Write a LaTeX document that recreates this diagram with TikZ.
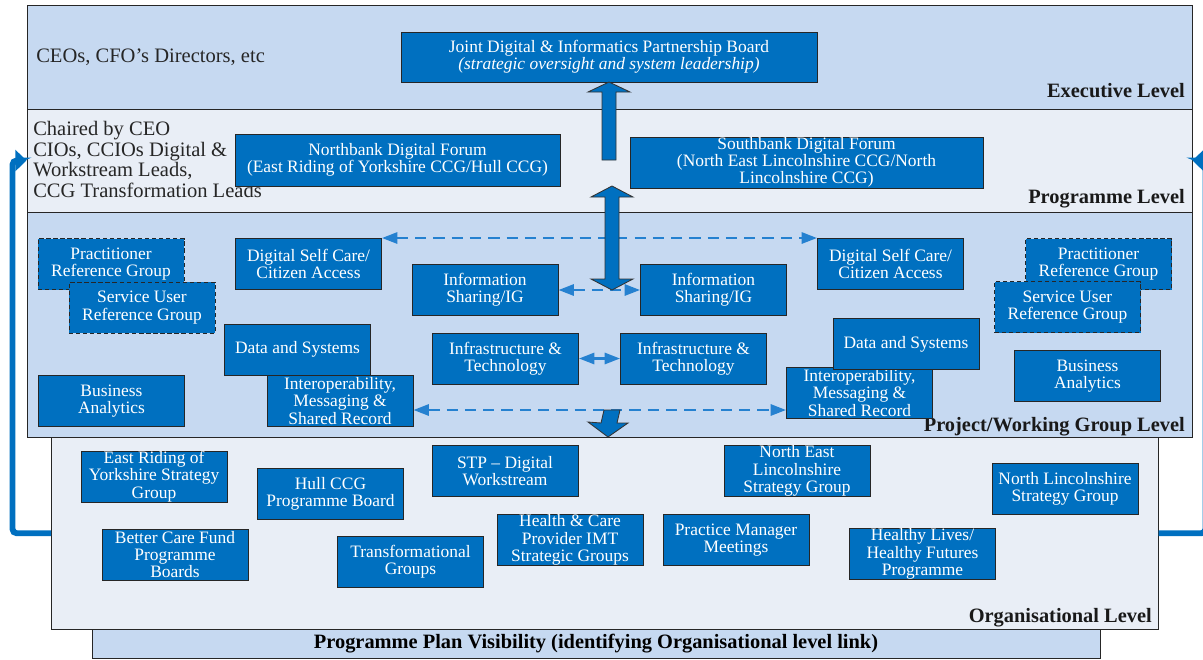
\documentclass[tikz,border=0pt]{standalone}
\usepackage{fontspec}
\setmainfont{Liberation Serif}
\usetikzlibrary{arrows.meta}
\newcommand{\pxu}{0.025cm}
\definecolor{boxblue}{HTML}{0070C0}
\definecolor{banddark}{HTML}{C6D9F1}
\definecolor{bandlight}{HTML}{E9EEF6}
\definecolor{dashblue}{HTML}{2581D0}
\tikzset{
  band/.style={draw=black!85,line width=0.7pt,inner sep=0pt},
  grp/.style={draw=black!85,line width=0.7pt,fill=boxblue,text=white,align=center,inner sep=0pt,
    minimum width=146*\pxu,minimum height=51*\pxu,font=\fontsize{12.4}{12.3}\selectfont},
  refgrp/.style={grp,densely dashed},
  lvl/.style={font=\fontsize{14.5}{14.5}\selectfont\bfseries,inner sep=0pt,text=black!90},
  who/.style={font=\fontsize{14.6}{14.6}\selectfont,inner sep=0pt,align=left,text=black!85},
  dasharr/.style={dashblue,line width=1.7pt,dash pattern=on 8pt off 5pt,
    {Triangle[length=11pt,width=8pt]}-{Triangle[length=11pt,width=8pt]}},
  loopline/.style={boxblue,line width=4.2pt,rounded corners=3pt,-{Triangle[length=8pt,width=15pt]}},
  blockarr/.style={fill=boxblue,draw=black!80,line width=0.6pt,line join=miter}
}
\begin{document}
\begin{tikzpicture}[x=0.025cm,y=-0.025cm]
\useasboundingbox (0,0) rectangle (1203,659);
% levels
\node[band,fill=banddark,minimum width=1165*\pxu,minimum height=104*\pxu] (exec) at (609.5,57) {};
\node[band,fill=bandlight,minimum width=1165*\pxu,minimum height=103*\pxu] (prog) at (609.5,160.5) {};
\node[band,fill=banddark,minimum width=1165*\pxu,minimum height=225*\pxu] (proj) at (609.5,324.5) {};
\node[band,fill=bandlight,minimum width=1106.5*\pxu,minimum height=192.5*\pxu] (org) at (604.75,533.25) {};
\node[band,fill=banddark,minimum width=1008*\pxu,minimum height=28.5*\pxu,font=\fontsize{14.5}{14.5}\selectfont\bfseries] (plan) at (596,643.75) {Programme Plan Visibility (identifying Organisational level link)};
\node[lvl,anchor=base east] (execlvl) at (1185,97) {Executive Level};
\node[lvl,anchor=base east] (proglvl) at (1185,203) {Programme Level};
\node[lvl,anchor=base east] (projlvl) at (1185,431) {Project/Working Group Level};
\node[lvl,anchor=base east] (orglvl) at (1152,622) {Organisational Level};
\node[who,anchor=base west] (execwho) at (36,62) {CEOs, CFO's Directors, etc};
\node[who,anchor=north west] (progwho) at (33,121) {Chaired by CEO\\CIOs, CCIOs Digital \&\\Workstream Leads,\\CCG Transformation Leads};
% links back up
\draw[loopline] (org.west) -- ++(-38.5,0) |- (prog.west);
\draw[loopline] (org.east) -- ++(47,0) |- (prog.east);
% executive + programme
\node[grp,minimum width=416*\pxu,minimum height=50*\pxu] (jdip) at (609,57) {Joint Digital \& Informatics Partnership Board\\\textit{(strategic oversight and system leadership)}};
\node[grp,minimum width=325*\pxu,minimum height=52*\pxu] (nbank) at (397.5,160) {Northbank Digital Forum\\(East Riding of Yorkshire CCG/Hull CCG)};
\node[grp,minimum width=353*\pxu] (sbank) at (806.5,162.5) {Southbank Digital Forum\\(North East Lincolnshire CCG/North\\Lincolnshire CCG)};
% project / working groups
\node[refgrp] (prgL) at (111,264) {Practitioner\\Reference Group};
\node[refgrp] (suL) at (142,307.5) {Service User\\Reference Group};
\node[grp] (dscL) at (308.5,264) {Digital Self Care/\\Citizen Access};
\node[grp] (dasL) at (297.5,349.5) {Data and Systems};
\node[grp] (intL) at (340,401) {Interoperability,\\Messaging \&\\Shared Record};
\node[grp] (baL) at (111.5,401) {Business\\Analytics};
\node[grp] (isL) at (485,290) {Information\\Sharing/IG};
\node[grp] (isR) at (713.5,290) {Information\\Sharing/IG};
\node[grp] (itL) at (505.5,358.5) {Infrastructure \&\\Technology};
\node[grp] (itR) at (693.5,358.5) {Infrastructure \&\\Technology};
\node[grp] (dscR) at (890.5,264) {Digital Self Care/\\Citizen Access};
\node[refgrp] (prgR) at (1098.5,264) {Practitioner\\Reference Group};
\node[refgrp] (suR) at (1067.5,307) {Service User\\Reference Group};
\node[grp] (intR) at (859.5,393) {Interoperability,\\Messaging \&\\Shared Record};
\node[grp] (dasR) at (906,344) {Data and Systems};
\node[grp] (baR) at (1087.5,376) {Business\\Analytics};
% organisational
\node[grp] (er) at (154,476.5) {East Riding of\\Yorkshire Strategy\\Group};
\node[grp] (hull) at (330.5,494) {Hull CCG\\Programme Board};
\node[grp] (stp) at (505,471) {STP -- Digital\\Workstream};
\node[grp] (nel) at (797,471) {North East\\Lincolnshire\\Strategy Group};
\node[grp] (nl) at (1065,488.5) {North Lincolnshire\\Strategy Group};
\node[grp] (bcf) at (175,554.5) {Better Care Fund\\Programme\\Boards};
\node[grp] (tg) at (410.5,562) {Transformational\\Groups};
\node[grp] (hc) at (570,540) {Health \& Care\\Provider IMT\\Strategic Groups};
\node[grp] (pm) at (736,540) {Practice Manager\\Meetings};
\node[grp] (hl) at (922.5,554) {Healthy Lives/\\Healthy Futures\\Programme};
% dashed links
\coordinate (iy) at (0,410);
\draw[dasharr] (dscL.north east) -- (dscR.north west);
\draw[dasharr] (isL.east) -- (isR.west);
\draw[dasharr] (itL.east) -- (itR.west);
\draw[dasharr] (intL.east |- iy) -- (intR.west |- iy);
% block arrows
\filldraw[blockarr] (602,160) -- (602,92) -- (588,92) -- (609,82) -- (630,92) -- (616,92) -- (616,160) -- cycle;
\filldraw[blockarr] (612,186) -- (633,197) -- (619,197) -- (619,279) -- (633,279) -- (612,290) -- (591,279) -- (605,279) -- (605,197) -- (591,197) -- cycle;
\filldraw[blockarr] (604,410) -- (620,410) -- (617,423) -- (628,423) -- (608,437) -- (588,422) -- (601,423) -- cycle;
\end{tikzpicture}
\end{document}
